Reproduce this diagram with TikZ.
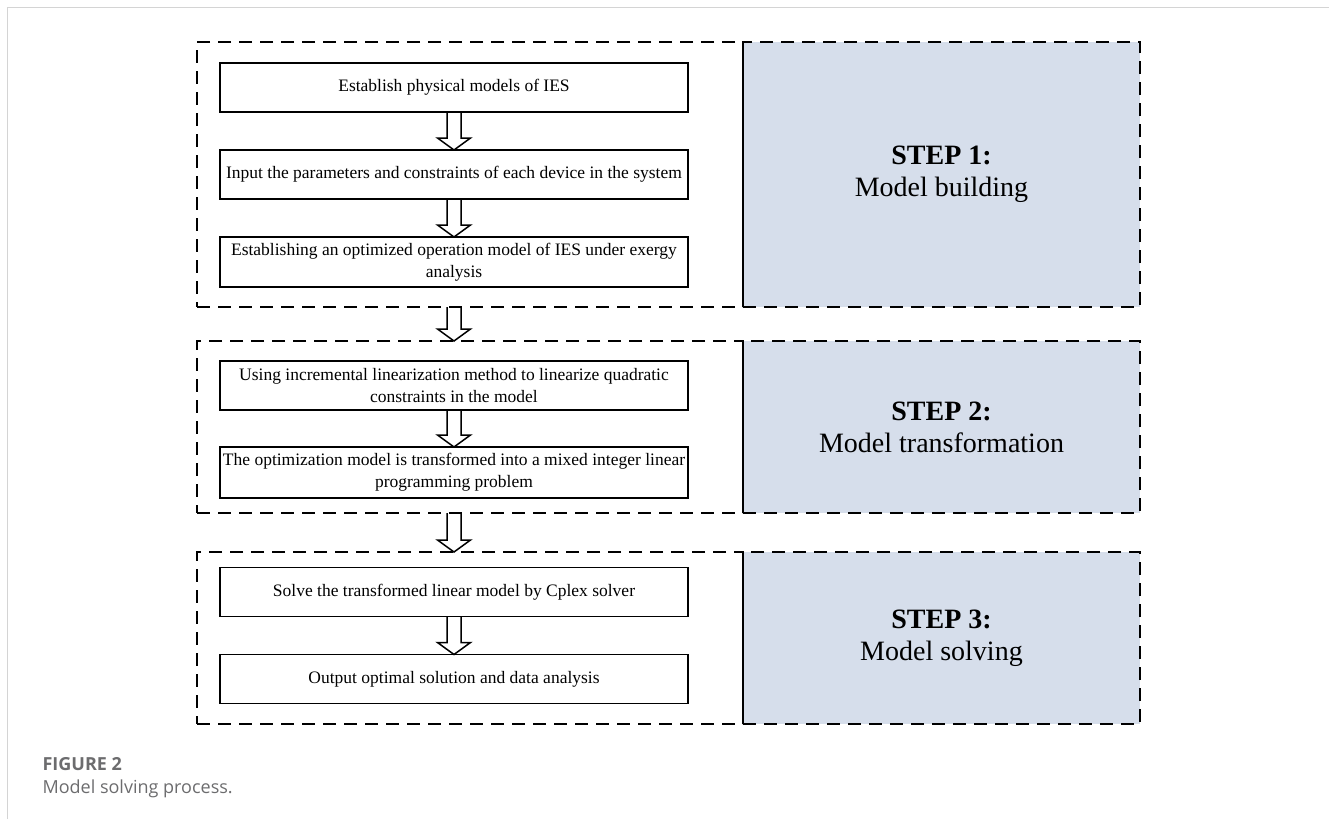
\documentclass[tikz,border=0pt]{standalone}
\usepackage{fontspec}
\setmainfont{Liberation Serif}
\newfontfamily\capfont{Open Sans}
\usetikzlibrary{calc,positioning}

\definecolor{stepblue}{RGB}{214,222,235}
\definecolor{capgray}{RGB}{108,108,110}
\definecolor{framegray}{RGB}{212,212,212}

\tikzset{
  taskbox/.style={draw,line width=1.8pt,minimum width=468pt,minimum height=49pt,
    inner sep=2pt,outer sep=0pt,align=center,font=\fontsize{17.5}{22}\selectfont},
  stagebox/.style={draw,line width=2.2pt,dash pattern=on 13pt off 8pt,
    minimum width=546pt,outer sep=0pt},
  stagelabel/.style={stagebox,fill=stepblue,minimum width=397pt,align=center,
    font=\fontsize{28}{32}\selectfont},
  caption/.style={anchor=base west,text=capgray,font=\capfont\fontsize{18}{21}\selectfont}
}

\newcommand\flowarrow[2]{%
  \path (#1) coordinate (fa-s) (#2) coordinate (fa-t);
  \draw[line width=1.5pt,line join=miter]
    ($(fa-s)+(-7pt,0)$) -- ($(fa-t)+(-7pt,12pt)$) -- ($(fa-t)+(-16.5pt,12pt)$)
    -- (fa-t) -- ($(fa-t)+(16.5pt,12pt)$) -- ($(fa-t)+(7pt,12pt)$) -- ($(fa-s)+(7pt,0)$);}

\begin{document}
\begin{tikzpicture}[x=1pt,y=-1pt]
\useasboundingbox (0,0) rectangle (1329,819);

\draw[framegray,line width=1pt] (7,819) -- (7,7) -- (1329,7);

% stages
\node[stagebox,minimum height=265pt] (box1) at (470,174.5) {};
\node[stagelabel,minimum height=265pt,right=0pt of box1] (lab1) {\textbf{STEP 1:}\\Model building};
\node[stagebox,minimum height=172pt] (box2) at (470,427) {};
\node[stagelabel,minimum height=172pt,right=0pt of box2] (lab2) {\textbf{STEP 2:}\\Model transformation};
\node[stagebox,minimum height=172pt] (box3) at (470,638) {};
\node[stagelabel,minimum height=172pt,right=0pt of box3] (lab3) {\textbf{STEP 3:}\\Model solving};
\foreach \s in {lab1,lab2,lab3}
  \draw[line width=0.8pt] (\s.north west) -- (\s.south west);

% tasks
\node[taskbox] (a) at (454,87.5) {Establish physical models of IES};
\node[taskbox,below=38pt of a] (b) {Input the parameters and constraints of each device in the system};
\node[taskbox,below=38pt of b,minimum height=50pt] (c) {Establishing an optimized operation model of IES under exergy\\analysis};

\node[taskbox] (d) at (454,385.5) {Using incremental linearization method to linearize quadratic\\constraints in the model};
\node[taskbox,below=37pt of d,minimum height=51pt] (e) {The optimization model is transformed into a mixed integer linear\\programming problem};

\node[taskbox] (f) at (454,592) {Solve the transformed linear model by Cplex solver};
\node[taskbox,below=38pt of f] (g) {Output optimal solution and data analysis};

\flowarrow{a.south}{b.north}
\flowarrow{b.south}{c.north}
\flowarrow{c.south |- box1.south}{d.north |- box2.north}
\flowarrow{d.south}{e.north}
\flowarrow{e.south |- box2.south}{f.north |- box3.north}
\flowarrow{f.south}{g.north}

\node[caption,font=\capfont\bfseries\fontsize{18}{21}\selectfont] (fig) at (39,770) {FIGURE 2};
\node[caption] (cap) at (39,793) {Model solving process.};
\end{tikzpicture}
\end{document}
